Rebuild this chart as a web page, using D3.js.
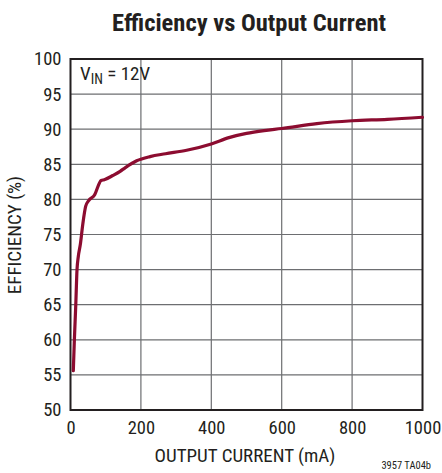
<!DOCTYPE html>
<html><head><meta charset="utf-8">
<script src="https://cdn.jsdelivr.net/npm/d3@7"></script>
<style>
body{margin:0;background:#fff;}
svg{display:block;}
text{font-family:"Liberation Sans Narrow","Roboto Condensed","DejaVu Sans Condensed","Liberation Sans",sans-serif;fill:#231f20;}
</style></head><body>
<svg id="c" width="442" height="473"></svg>
<script>
const currentMA = [8,11,15,18.5,22,28,35,43,51,68,87,96,120,141,155,188,226,270,330,400,450,500,550,600,700,800,900,1000];
const efficiency = [55.6,60,65,70,71.8,73.6,76.5,79,79.8,80.6,82.7,82.8,83.4,84,84.5,85.5,86.1,86.5,87.0,87.9,88.8,89.4,89.8,90.1,90.8,91.2,91.4,91.7];
const xTicks = [0,200,400,600,800,1000];
const yTicks = [50,55,60,65,70,75,80,85,90,95,100];

const svg = d3.select("#c");
const L=70.5, R=422.5, T=59, B=410;
const x = d3.scaleLinear().domain([0,1000]).range([L,R]);
const y = d3.scaleLinear().domain([50,100]).range([B,T]);

// grid
svg.append("g").selectAll("line").data(yTicks.slice(1,-1)).join("line")
  .attr("x1",L).attr("x2",R).attr("y1",d=>y(d)).attr("y2",d=>y(d))
  .attr("stroke","#6d6e71").attr("stroke-width",1.2);
svg.append("g").selectAll("line").data(xTicks.slice(1,-1)).join("line")
  .attr("y1",T).attr("y2",B).attr("x1",d=>x(d)).attr("x2",d=>x(d))
  .attr("stroke","#6d6e71").attr("stroke-width",1.2);

// frame
svg.append("rect").attr("x",L).attr("y",T).attr("width",R-L).attr("height",B-T)
  .attr("fill","none").attr("stroke","#231f20").attr("stroke-width",2);

// axes labels via d3 axes
const xa = svg.append("g").attr("transform",`translate(0,${B})`)
  .call(d3.axisBottom(x).tickValues(xTicks).tickFormat(d3.format("d")).tickSize(0).tickPadding(11));
xa.select(".domain").remove();
xa.selectAll("text").attr("font-size",18.5).style("font-family",null);
const ya = svg.append("g").attr("transform",`translate(${L},0)`)
  .call(d3.axisLeft(y).tickValues(yTicks).tickFormat(d3.format("d")).tickSize(0).tickPadding(9));
ya.select(".domain").remove();
ya.selectAll("text").attr("font-size",18.5).style("font-family",null);
svg.selectAll(".tick text").attr("fill","#231f20");

// curve
const line = d3.line().x((d,i)=>x(currentMA[i])).y(d=>y(d)).curve(d3.curveMonotoneX);
svg.append("path").datum(efficiency).attr("d",line)
  .attr("fill","none").attr("stroke","#8c0c30").attr("stroke-width",3.2)
  .attr("stroke-linejoin","round").attr("stroke-linecap","round");

// titles
svg.append("text").attr("x",249).attr("y",31).attr("text-anchor","middle")
  .attr("font-size",24.5).attr("font-weight","bold").text("Efficiency vs Output Current");
svg.append("text").attr("x",245).attr("y",462).attr("text-anchor","middle")
  .attr("font-size",19).text("OUTPUT CURRENT (mA)");
svg.append("text").attr("transform","translate(21,235) rotate(-90)").attr("text-anchor","middle")
  .attr("font-size",19).text("EFFICIENCY (%)");
const v = svg.append("text").attr("x",80).attr("y",80).attr("font-size",19);
v.append("tspan").text("V");
v.append("tspan").attr("font-size",14).attr("dy",4).text("IN");
v.append("tspan").attr("dy",-4).text(" = 12V");
svg.append("text").attr("x",431).attr("y",469).attr("text-anchor","end")
  .attr("font-size",10.5).text("3957 TA04b");
</script>
</body></html>
